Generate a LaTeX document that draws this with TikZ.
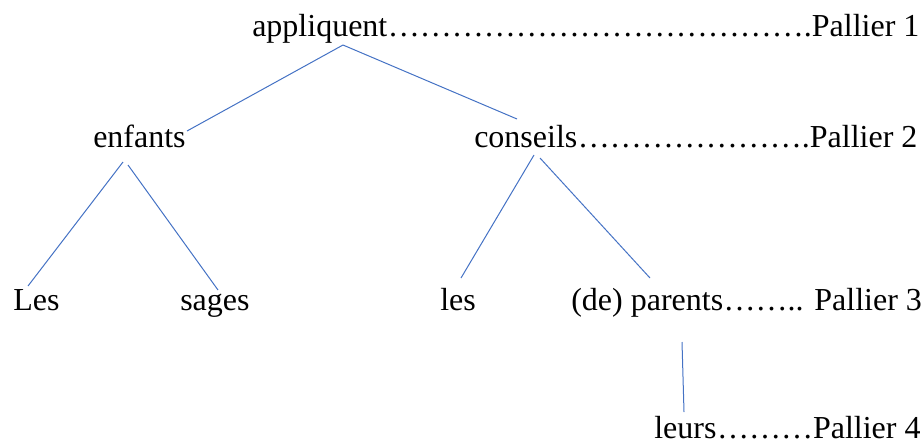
\documentclass[tikz,border=0pt]{standalone}
\usepackage{fontspec}
\setmainfont{Liberation Serif}
\usetikzlibrary{positioning}
\definecolor{branch}{RGB}{68,114,196}
\tikzset{
  word/.style={inner sep=0pt,anchor=base west,font=\fontsize{24}{28}\selectfont},
  link/.style={draw=branch,line width=0.75pt},
}
\newcommand{\pdots}[1]{\foreach \k in {1,...,#1}{…}}

\begin{document}
\begin{tikzpicture}[x=0.75pt,y=-0.75pt]
  \useasboundingbox (0,0) rectangle (923,447);
  % words of the tree
  \node[word] (app) at (252,36) {appliquent};
  \node[word] (enf) at (93,147) {enfants};
  \node[word] (cons) at (474,147) {conseils};
  \node[word] (Les) at (13,310) {Les};
  \node[word] (sag) at (180,310) {sages};
  \node[word] (les) at (440,310) {les};
  \node[word] (par) at (571,310) {(de) parents};
  \node[word] (leu) at (654,438) {leurs};
  % levels
  \node[word] (p1) at (app.base east) {\pdots{13}.Pallier 1};
  \node[word] (p2) at (cons.base east) {\pdots{7}.Pallier 2};
  \node[word] (p3) at (par.base east) {\pdots{2}.. Pallier 3};
  \node[word] (p4) at (leu.base east) {\pdots{3}Pallier 4};
  % branches
  \draw[link] ([shift={(91,9)}]app.base west) -- ([shift={(94,-16)}]enf.base west);
  \draw[link] ([shift={(91,9)}]app.base west) -- ([shift={(43,-28)}]cons.base west);
  \draw[link] ([shift={(30,15)}]enf.base west) -- ([shift={(15,-24)}]Les.base west);
  \draw[link] ([shift={(35,18)}]enf.base west) -- ([shift={(38,-20)}]sag.base west);
  \draw[link] ([shift={(60,8)}]cons.base west) -- ([shift={(21,-32)}]les.base west);
  \draw[link] ([shift={(66,11)}]cons.base west) -- ([shift={(79,-32)}]par.base west);
  \draw[link] ([shift={(111,32)}]par.base west) -- ([shift={(30,-26)}]leu.base west);
\end{tikzpicture}
\end{document}
